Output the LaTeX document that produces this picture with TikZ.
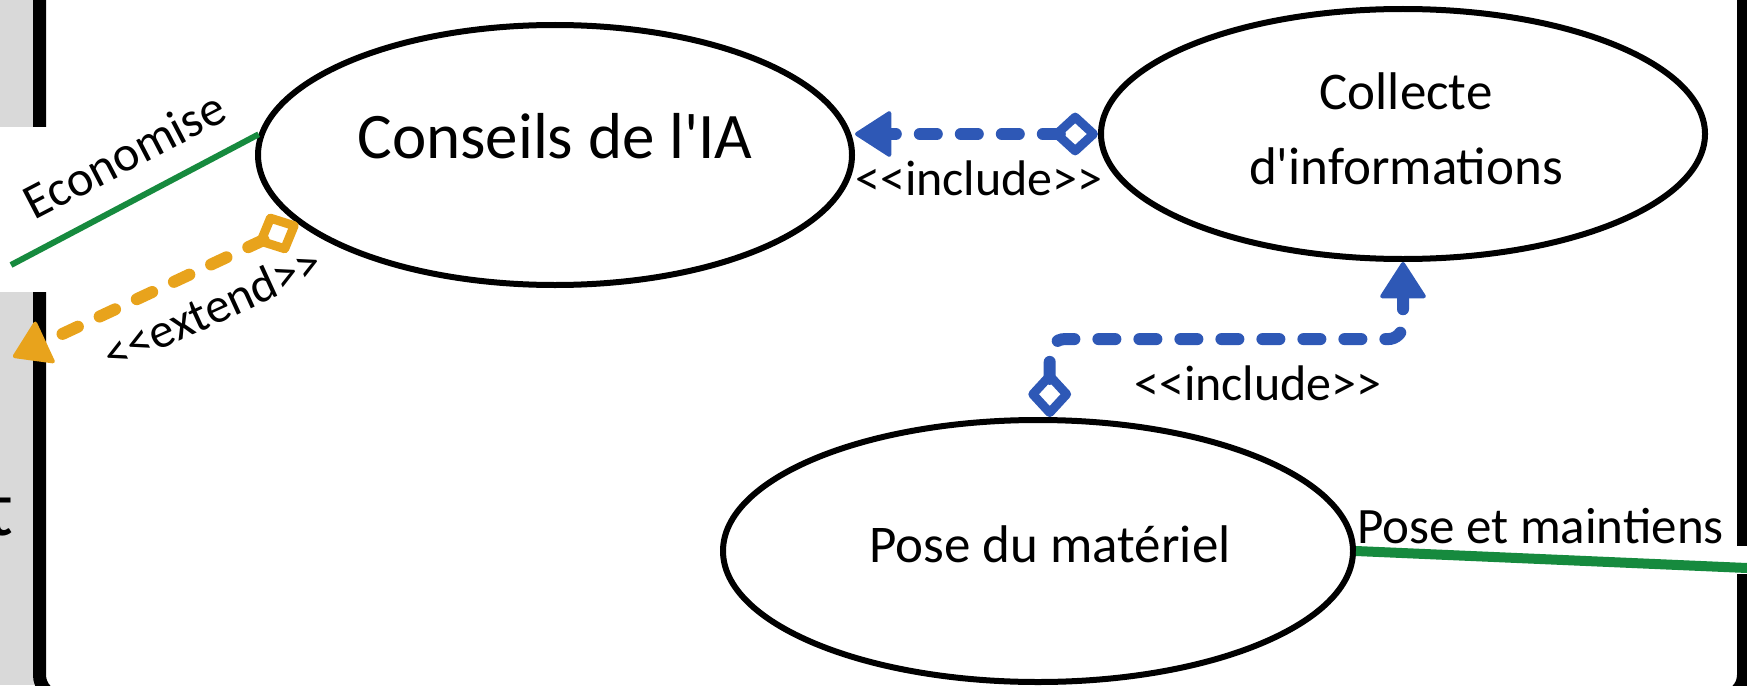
\documentclass[tikz,border=0pt]{standalone}
\usepackage{fontspec}
\setmainfont{Carlito}[Ligatures=TeXOff]
\usetikzlibrary{arrows.meta,shapes.geometric}
\definecolor{incblue}{HTML}{2E58B6}
\definecolor{extorange}{HTML}{E8A31C}
\definecolor{assocgreen}{HTML}{168A3E}
\definecolor{bggray}{HTML}{D9D9D9}
\begin{document}
\begin{tikzpicture}[x=1pt,y=-1pt,
  usecase/.style={draw=black, line width=6pt, ellipse, inner sep=0pt, fill=white},
  uctext/.style 2 args={font=\fontsize{#1}{#2}\selectfont, align=center, inner sep=0pt},
  lbl/.style={font=\fontsize{#1}{#1}\selectfont, inner sep=0pt},
  assoc/.style={draw=assocgreen, line width=#1},
  depends/.style={draw=#1, line width=12pt, line cap=round, dash pattern=on 17pt off 24pt,
    arrows={Diamond[open,round,length=50pt,width=46pt,line width=9pt]-Triangle[round,length=38pt,width=48pt,line width=4pt]}},
]
\useasboundingbox (0,0) rectangle (1747,685);
\fill[bggray] (0,0) rectangle (40,685);
\draw[line width=13pt, rounded corners=22pt] (39.5,-60) rectangle (1743.5,697);
\fill[white] (0,127) rectangle (50,292);
\fill[white] (1728,546) rectangle (1747,574);
\node[anchor=base east, font=\fontsize{80}{80}\selectfont, inner sep=0pt] (tt) at (13,535) {t};

\node[usecase, minimum width=594pt, minimum height=260pt] (conseils) at (555,155) {};
\node[usecase, minimum width=604pt, minimum height=250pt] (collecte) at (1403,134) {};
\node[usecase, minimum width=630pt, minimum height=262pt] (pose) at (1038,551) {};

\node[uctext={65}{65}] (conseilsT) at (555,136) {Conseils de l'IA};
\node[uctext={53}{75}] (collecteT) at (1406,129) {Collecte\\d'informations};
\node[lbl=53, anchor=base] (poseT) at (1050,562) {Pose du matériel};

\coordinate (ecoL) at (11,265);
\coordinate (extL) at (13,357);
\coordinate (rightL) at (1747,568);

\draw[assoc=6pt] (conseils.176) -- (ecoL);
\node[lbl=50, rotate=27.5] (ecoLbl) at (124,155) {Economise};

\draw[depends=extorange] (conseils.195) -- (extL);
\node[lbl=49, rotate=24.6] (extLbl) at (212,308) {<<extend>>};

\draw[depends=incblue] (collecte.west) -- (conseils.east |- collecte.west);
\node[lbl=50, anchor=base] (incLbl1) at (979,195) {<<include>>};

\draw[depends=incblue, rounded corners=15pt] (pose.85) -- ++(0,-78) -| (collecte.south);
\node[lbl=50, anchor=base] (incLbl2) at (1258,400) {<<include>>};

\draw[assoc=10pt] (pose.east) -- (rightL);
\node[lbl=51, anchor=base west] (poseLbl) at (1357,543) {Pose et maintiens};
\end{tikzpicture}
\end{document}
